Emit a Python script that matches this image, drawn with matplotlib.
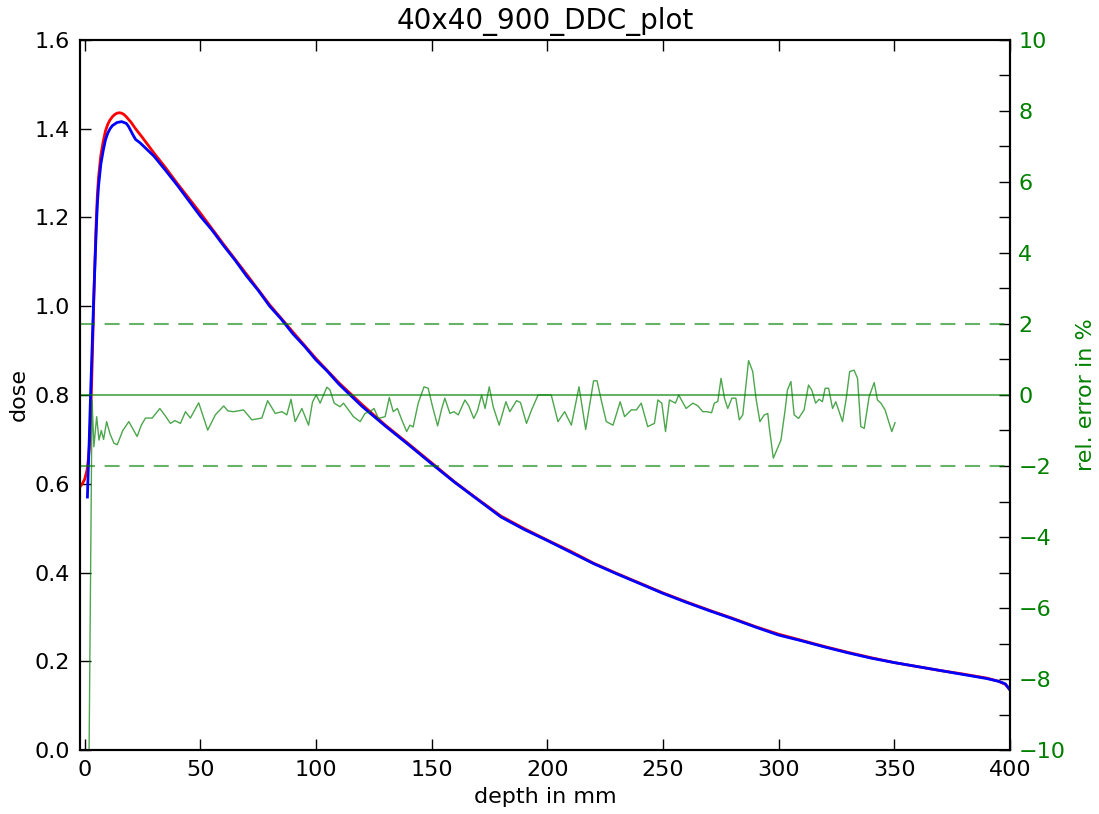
import numpy as np
import matplotlib
matplotlib.use('Agg')
import matplotlib.pyplot as plt
from matplotlib.ticker import MultipleLocator

# dose curves (depth in mm)
x_red = [-1.7, -1, 0, 1, 1.5, 2, 2.5, 3, 3.5, 4, 4.5, 5, 5.5, 6, 7, 8, 9, 10, 11, 12, 13, 14, 15, 16, 17, 18, 20, 22, 25, 30,
         35, 40, 50, 60, 70, 80, 90, 100, 110, 120, 130, 140, 150, 160, 170, 180, 190, 200, 210, 220, 230, 240, 250,
         260, 270, 280, 290, 300, 310, 320, 330, 340, 350, 360, 370, 380, 390, 395, 398, 400]
dose_red = [0.595, 0.60, 0.61, 0.63, 0.65, 0.68, 0.74, 0.82, 0.92, 1.02, 1.11, 1.19, 1.25, 1.29, 1.34, 1.37, 1.395, 1.41,
            1.42, 1.427, 1.432, 1.435, 1.436, 1.435, 1.432, 1.427, 1.415, 1.40, 1.38, 1.345,
            1.312, 1.277, 1.21, 1.14, 1.072, 1.003, 0.942, 0.882, 0.827, 0.778, 0.732, 0.69, 0.647, 0.604, 0.565,
            0.527, 0.499, 0.473, 0.448, 0.421, 0.398, 0.376, 0.354, 0.334, 0.315, 0.297, 0.278, 0.261, 0.247,
            0.233, 0.22, 0.208, 0.197, 0.188, 0.179, 0.171, 0.162, 0.155, 0.148, 0.136]

x_blue = [1.2, 1.5, 2, 2.5, 3, 3.5, 4, 4.5, 5, 5.5, 6, 7, 8, 9, 10, 11, 12, 14, 16, 18, 19, 20, 21, 22, 24, 26, 28, 30,
          35, 40, 45, 50, 55, 60, 65, 70, 75, 80, 85, 90, 95, 100, 105, 110, 115, 120, 130, 140, 150, 160, 170,
          180, 190, 200, 210, 220, 230, 240, 250, 260, 270, 280, 290, 300, 310, 320, 330, 340, 350, 360, 370,
          380, 390, 395, 398, 400]
dose_blue = [0.57, 0.62, 0.70, 0.79, 0.87, 0.95, 1.03, 1.10, 1.17, 1.23, 1.27, 1.32, 1.35, 1.375, 1.39, 1.40, 1.407,
             1.414, 1.416, 1.412, 1.405, 1.395, 1.385, 1.376, 1.368, 1.358, 1.348, 1.338,
             1.306, 1.273, 1.238, 1.203, 1.172, 1.137, 1.104, 1.068, 1.036, 1.0, 0.971, 0.938, 0.91, 0.879,
             0.853, 0.824, 0.799, 0.774, 0.73, 0.688, 0.645, 0.603, 0.564, 0.525, 0.497, 0.472, 0.446, 0.420,
             0.397, 0.375, 0.353, 0.333, 0.314, 0.296, 0.277, 0.259, 0.246, 0.232, 0.219, 0.207, 0.197, 0.188,
             0.179, 0.17, 0.161, 0.155, 0.149, 0.135]

# relative error in %
x_err = [1.8, 3.2, 4.0, 5.2, 6.2, 7.2, 8.2, 9.5, 11.0, 12.7, 14.1, 16.5, 19.1, 20.8, 22.7, 24.5, 26.3, 29.2, 32.5,
         35.0, 37.1, 39.0, 41.4, 43.6, 45.7, 49.3, 53.2, 56.5, 60.1, 62.0, 64.4, 68.7, 72.3, 76.6, 79.1, 82.4,
         85.3, 87.4, 89.2, 91.0, 93.9, 96.8, 98.5, 100.1, 101.8, 104.7, 106.0, 107.9, 110.4, 111.9, 116.2, 119.1,
         121.2, 123.4, 125.1, 127.0, 129.9, 131.7, 133.4, 135.2, 137.1, 139.2, 140.6, 142.0, 144.2, 146.7, 148.5,
         150.4, 152.6, 154.3, 155.7, 157.9, 159.6, 161.5, 164.4, 166.0, 168.2, 169.8, 171.6, 173.1, 174.9, 176.6,
         179.2, 182.1, 183.8, 186.7, 188.4, 191.0, 193.2, 196.0, 198.2, 201.7, 204.6, 207.5, 210.4, 213.7, 216.6,
         220.0, 221.5, 223.3, 225.5, 228.4, 231.5, 233.4, 236.3, 238.5, 240.6, 243.4, 246.3, 247.8, 249.5, 251.1,
         252.8, 255.4, 256.8, 260.0, 262.9, 265.0, 267.2, 269.0, 271.0, 272.2, 273.7, 275.1, 276.6, 278.0, 279.8,
         281.5, 283.0, 284.5, 287.0, 288.8, 290.2, 291.9, 293.8, 295.3, 296.0, 297.7, 301.0, 302.8, 303.8, 305.3,
         306.7, 308.6, 311.0, 312.9, 314.3, 316.0, 317.5, 318.9, 320.1, 321.6, 323.3, 324.7, 327.6, 329.2, 330.7,
         332.6, 334.1, 335.5, 337.0, 339.1, 341.3, 342.7, 344.2, 346.0, 348.9, 350.3]
err = [-11, -0.14, -1.46, -0.61, -1.27, -1.0, -1.25, -0.75, -1.1, -1.36, -1.4, -1.0, -0.75, -0.95, -1.17, -0.85, -0.65,
       -0.65, -0.38, -0.6, -0.8, -0.72, -0.8, -0.47, -0.65, -0.22, -0.99, -0.56, -0.31, -0.45, -0.47, -0.42, -0.70,
       -0.65, -0.16, -0.52, -0.47, -0.56, -0.12, -0.75, -0.38, -0.85, -0.2, 0.0, -0.23, 0.22, 0.15, -0.23, -0.33,
       -0.23, -0.61, -0.75, -0.52, -0.47, -0.38, -0.66, -0.61, -0.07, -0.47, -0.38, -0.7, -1.03, -0.85, -0.9,
       -0.23, 0.23, 0.19, -0.33, -0.87, -0.4, -0.09, -0.52, -0.47, -0.56, -0.14, -0.3, -0.66, -0.45, 0.0, -0.38,
       0.23, -0.33, -0.85, -0.19, -0.47, -0.16, -0.21, -0.8, -0.42, 0.0, 0.0, 0.0, -0.75, -0.47, -0.85, 0.23,
       -0.97, 0.40, 0.40, -0.14, -0.75, -0.85, -0.19, -0.61, -0.42, -0.42, -0.23, -0.89, -0.8, -0.14, -0.23,
       -1.03, -0.14, -0.23, 0.0, -0.38, -0.23, -0.3, -0.47, -0.47, -0.5, -0.23, -0.18, 0.47, -0.1, -0.38, -0.09,
       -0.09, -0.7, -0.56, 0.97, 0.66, -0.09, -0.75, -0.56, -0.52, -0.94, -1.78, -1.27, -0.42, 0.14, 0.38, -0.56,
       -0.66, -0.42, 0.28, 0.14, -0.23, -0.12, -0.19, 0.19, 0.19, -0.38, -0.19, -0.75, -0.1, 0.66, 0.70, 0.47,
       -0.89, -0.94, -0.05, 0.35, -0.14, -0.23, -0.42, -1.03, -0.78]
err_limits = [-2, 2]

green = '#008000'

fig = plt.figure(figsize=(10.99, 8.14), dpi=100)
ax = fig.add_axes([0.0728, 0.0786, 0.8462, 0.8723])
ax.plot(x_red, dose_red, color='red', lw=2)
ax.plot(x_blue, dose_blue, color='blue', lw=2)
ax.set_xlim(-2, 400)
ax.set_ylim(0, 1.6)
ax.set_xticks(np.arange(0, 401, 50))
ax.set_yticks(np.arange(0, 1.61, 0.2))
ax.set_xlabel('depth in mm', fontsize=16, labelpad=5)
ax.set_ylabel('dose', fontsize=16, labelpad=4)
ax.set_title('40x40_900_DDC_plot', fontsize=20, pad=8)
ax.tick_params(direction='in', length=8, width=1, labelsize=16, top=True, right=False, pad=7)

ax2 = ax.twinx()
ax2.plot(x_err, err, color=green, lw=1, alpha=0.7)
ax2.axhline(0, color=green, lw=1.5, alpha=0.6)
for e in err_limits:
    ax2.axhline(e, color=green, lw=1.5, alpha=0.6, ls=(0, (7.2, 4.6)))
ax2.set_ylim(-10, 10)
ax2.yaxis.set_major_locator(MultipleLocator(2))
ax2.yaxis.set_minor_locator(MultipleLocator(1))
ax2.tick_params(axis='y', which='both', direction='in', length=8, width=1, labelsize=16, labelcolor=green, pad=6)
ax2.set_ylabel('rel. error in %', fontsize=16, color=green, labelpad=8)
for a in (ax, ax2):
    for s in a.spines.values():
        s.set_linewidth(1.5)

fig.savefig('out.png', dpi=100)
